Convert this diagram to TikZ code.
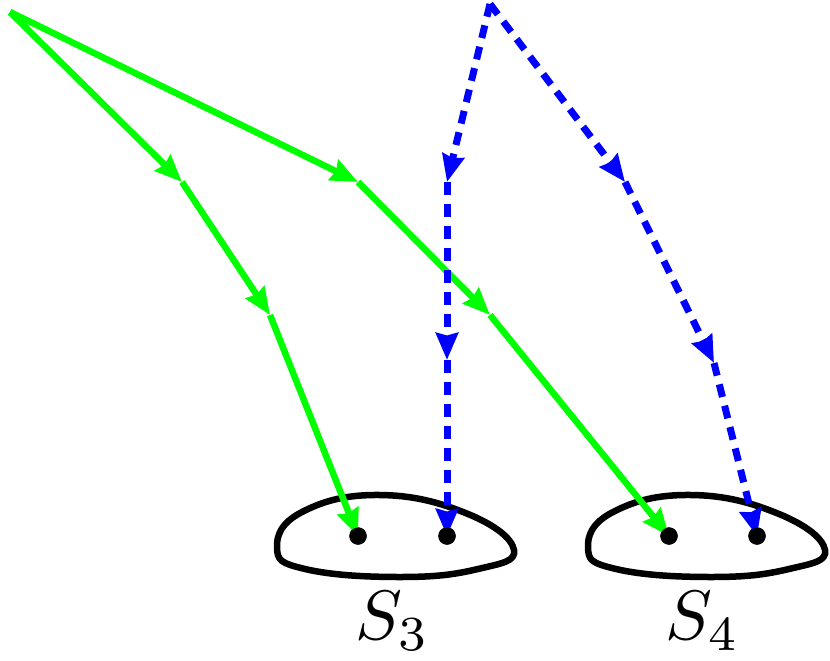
\documentclass[tikz,border=0pt]{standalone}
\usetikzlibrary{arrows.meta}
\definecolor{pgreen}{RGB}{0,255,0}
\definecolor{pblue}{RGB}{0,0,255}
\begin{document}
\begin{tikzpicture}[x=1pt,y=-1pt,
  garrow/.style={draw=pgreen,line width=6.5pt,-{Stealth[length=27pt,width=22pt,inset=2.5pt]}},
  barrow/.style={draw=pblue,line width=7pt,dash pattern=on 13pt off 9pt,-{Stealth[length=27pt,width=22pt,inset=2.5pt]}},
  blob/.style={draw=black,line width=6.5pt},
  dotnode/.style={circle,fill=black,draw=black,inner sep=0pt,minimum size=17pt},
  lbl/.style={scale=7}]
\useasboundingbox (0,0) rectangle (830,661);
% start points and vertices
\coordinate (gs) at (10,12);
\coordinate (bs) at (490,4);
\coordinate (g1a) at (182,182);
\coordinate (g1b) at (270,315);
\coordinate (g2a) at (358,182);
\coordinate (g2b) at (490,315);
\coordinate (b1a) at (447,182);
\coordinate (b1b) at (447,360);
\coordinate (b2a) at (625,182);
\coordinate (b2b) at (714,363);
% sets
\foreach \dx in {0,311}{
  \draw[blob,shift={(\dx,0)}] plot[smooth cycle,tension=0.75] coordinates
    {(277,548) (302,512) (380,495) (468,514) (514,550) (478,569) (400,577) (305,569)};
}
% targets
\node[dotnode] (d1) at (358,536) {};
\node[dotnode] (d2) at (447,536) {};
\node[dotnode] (d3) at (669,536) {};
\node[dotnode] (d4) at (757,536) {};
% green paths
\draw[garrow] (gs) -- (g1a);
\draw[garrow] (g1a) -- (g1b);
\draw[garrow] (g1b) -- (d1.center);
\draw[garrow] (gs) -- (g2a);
\draw[garrow] (g2a) -- (g2b);
\draw[garrow] (g2b) -- (d3.center);
% blue paths
\draw[barrow] (bs) -- (b1a);
\draw[barrow] (b1a) -- (b1b);
\draw[barrow] (b1b) -- (d2.center);
\draw[barrow] (bs) -- (b2a);
\draw[barrow] (b2a) -- (b2b);
\draw[barrow] (b2b) -- (d4.center);
% redraw dots on top
\foreach \d in {d1,d2,d3,d4}{\fill (\d) circle (8.5pt);}
% labels
\node[lbl] (l3) at (393,621) {$S_3$};
\node[lbl] (l4) at (703,621) {$S_4$};
\end{tikzpicture}
\end{document}
